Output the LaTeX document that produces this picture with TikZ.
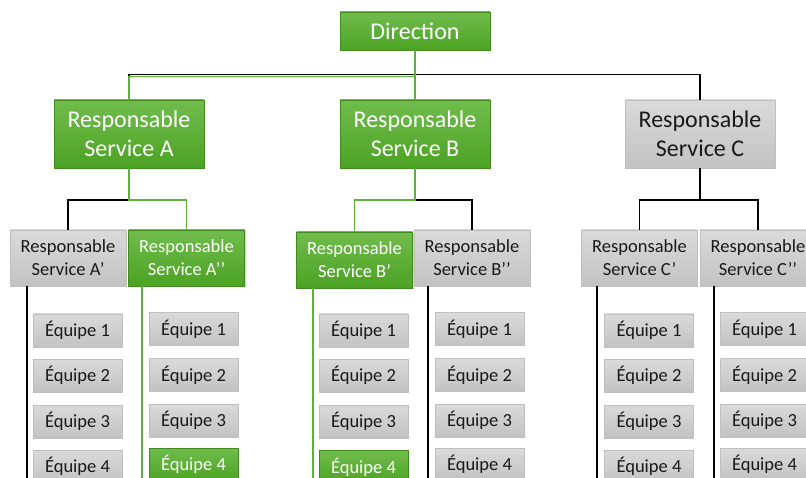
\documentclass[tikz,border=0pt]{standalone}
\usepackage{fontspec}
\setmainfont{Carlito}
\usepackage{tikz}
\usetikzlibrary{shadows}
\definecolor{grntop}{HTML}{70BC4C}
\definecolor{grnbot}{HTML}{4CA323}
\definecolor{grnline}{HTML}{5DB33A}
\definecolor{grytop}{HTML}{DADADA}
\definecolor{grybot}{HTML}{C2C2C2}

\tikzset{
	greenbox/.style={draw=grnbot!85!black, top color=grntop, bottom color=grnbot, text=white,
		drop shadow={opacity=0.35, shadow xshift=1pt, shadow yshift=-1.5pt}},
	graybox/.style={draw=black!25, top color=grytop, bottom color=grybot, text=black!90},
	bigbox/.style={minimum width=150pt, minimum height=68pt, inner sep=0pt, align=center,
		font=\fontsize{24}{29}\selectfont},
	subbox/.style={minimum width=116pt, minimum height=56pt, inner sep=0pt, align=center,
		font=\fontsize{18.5}{23}\selectfont},
	teambox/.style={minimum width=89pt, minimum height=33pt, inner sep=0pt,
		font=\fontsize{18.5}{22}\selectfont},
	link/.style={line width=1.8pt, black},
	glink/.style={line width=1.8pt, grnline}
}

\begin{document}
\begin{tikzpicture}[x=1pt, y=-1pt]
	\useasboundingbox (0,0) rectangle (806,478);
	\clip (0,0) rectangle (806,478);

	\node[greenbox, bigbox, minimum height=38pt] (dir) at (415,31) {Direction};
	\node[greenbox, bigbox] (rsA) at (129,134) {Responsable\\Service A};
	\node[greenbox, bigbox] (rsB) at (415,134) {Responsable\\Service B};
	\node[graybox, bigbox] (rsC) at (700,134) {Responsable\\Service C};

	\node[graybox, subbox] (rsAp) at (68,258) {Responsable\\Service A’};
	\node[greenbox, subbox] (rsApp) at (186.5,258) {Responsable\\Service A’’};
	\node[greenbox, subbox] (rsBp) at (354.5,260) {Responsable\\Service B’};
	\node[graybox, subbox] (rsBpp) at (472,258) {Responsable\\Service B’’};
	\node[graybox, subbox] (rsCp) at (639.5,258) {Responsable\\Service C’};
	\node[graybox, subbox] (rsCpp) at (758,258) {Responsable\\Service C’’};

	\coordinate (top) at (415,74.5);
	\coordinate (topg) at (415,76.5);
	\coordinate (jA) at (129,200);
	\coordinate (jB) at (415,200);
	\coordinate (jC) at (700,200);
	\coordinate (bot) at (0,480);

	\draw[link] (dir.south) -- (top) -| (rsC.north);
	\draw[link] (top) -| (rsA.north);
	\draw[glink] (dir.south) -- (rsB.north);
	\draw[glink] (topg) -| (rsA.north);

	\draw[link] (rsA.south) -- (jA) -| (rsAp.north);
	\draw[glink] (rsA.south) -- (jA) -| (rsApp.north);
	\draw[link] (rsB.south) -- (jB) -| (rsBpp.north);
	\draw[glink] (rsB.south) -- (jB) -| (rsBp.north);
	\draw[link] (rsC.south) -- (jC) -| (rsCp.north);
	\draw[link] (jC) -| (rsCpp.north);

	\draw[link] ([xshift=17pt]rsAp.south west) -- ([xshift=17pt]rsAp.south west |- bot);
	\draw[glink] ([xshift=14pt]rsApp.south west) -- ([xshift=14pt]rsApp.south west |- bot);
	\draw[glink] ([xshift=17pt]rsBp.south west) -- ([xshift=17pt]rsBp.south west |- bot);
	\draw[link] ([xshift=14pt]rsBpp.south west) -- ([xshift=14pt]rsBpp.south west |- bot);
	\draw[link] ([xshift=16pt]rsCp.south west) -- ([xshift=16pt]rsCp.south west |- bot);
	\draw[link] ([xshift=14pt]rsCpp.south west) -- ([xshift=14pt]rsCpp.south west |- bot);

	\node[graybox, teambox] (eqAp1) at (77.5,330.5) {Équipe 1};
	\node[graybox, teambox] (eqAp2) at (77.5,375.5) {Équipe 2};
	\node[graybox, teambox] (eqAp3) at (77.5,421.5) {Équipe 3};
	\node[graybox, teambox] (eqAp4) at (77.5,466.5) {Équipe 4};

	\node[graybox, teambox] (eqApp1) at (193.5,329) {Équipe 1};
	\node[graybox, teambox] (eqApp2) at (193.5,375) {Équipe 2};
	\node[graybox, teambox] (eqApp3) at (193.5,420.5) {Équipe 3};
	\node[greenbox, teambox] (eqApp4) at (193.5,464.5) {Équipe 4};

	\node[graybox, teambox] (eqBp1) at (363.5,330.5) {Équipe 1};
	\node[graybox, teambox] (eqBp2) at (363.5,375.5) {Équipe 2};
	\node[graybox, teambox] (eqBp3) at (363.5,421.5) {Équipe 3};
	\node[greenbox, teambox] (eqBp4) at (363.5,467) {Équipe 4};

	\node[graybox, teambox] (eqBpp1) at (479.5,329) {Équipe 1};
	\node[graybox, teambox] (eqBpp2) at (479.5,375) {Équipe 2};
	\node[graybox, teambox] (eqBpp3) at (479.5,420.5) {Équipe 3};
	\node[graybox, teambox] (eqBpp4) at (479.5,464.5) {Équipe 4};

	\node[graybox, teambox] (eqCp1) at (649,330.5) {Équipe 1};
	\node[graybox, teambox] (eqCp2) at (649,375.5) {Équipe 2};
	\node[graybox, teambox] (eqCp3) at (649,421.5) {Équipe 3};
	\node[graybox, teambox] (eqCp4) at (649,466.5) {Équipe 4};

	\node[graybox, teambox] (eqCpp1) at (764.5,329) {Équipe 1};
	\node[graybox, teambox] (eqCpp2) at (764.5,375) {Équipe 2};
	\node[graybox, teambox] (eqCpp3) at (764.5,420.5) {Équipe 3};
	\node[graybox, teambox] (eqCpp4) at (764.5,464.5) {Équipe 4};
\end{tikzpicture}
\end{document}
